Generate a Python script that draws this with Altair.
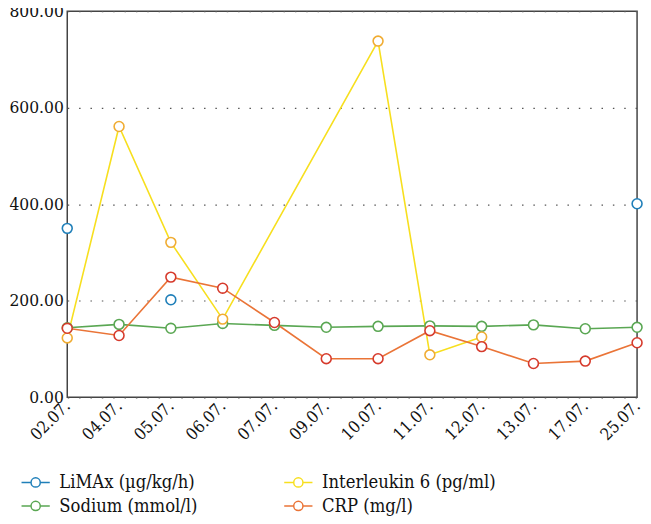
import altair as alt
import pandas as pd

dates = ["02.07.", "04.07.", "05.07.", "06.07.", "07.07.", "09.07.",
         "10.07.", "11.07.", "12.07.", "13.07.", "17.07.", "25.07."]

series_names = ["LiMAx (µg/kg/h)", "Sodium (mmol/l)", "Interleukin 6 (pg/ml)", "CRP (mg/l)"]

limax = [350, None, 202, None, None, None, None, None, None, None, None, 401]
sodium = [144, 151, 143, 153, 149, 145, 147, 148, 147, 150, 142, 145]
interleukin = [123, 561, 321, 162, None, None, 738, 88, 125, None, None, None]
crp = [143, 128, 249, 226, 155, 80, 80, 138, 105, 70, 75, 113]

line_colors = ["#1f7fb9", "#5aa753", "#f7df1e", "#ea7437"]
point_colors = ["#1f7fb9", "#5aa753", "#f0ac32", "#d63a2c"]

FONT = "'DejaVu Serif Condensed', 'DejaVu Serif', serif"

rows = []
for name, vals, pc in zip(series_names, [limax, sodium, interleukin, crp], point_colors):
    for d, v in zip(dates, vals):
        if v is not None:
            rows.append({"date": d, "value": v, "series": name, "pc": pc})
df = pd.DataFrame(rows)

x = alt.X("date:N", sort=dates, scale=alt.Scale(type="point", padding=0),
          axis=alt.Axis(title=None, labelAngle=-45, labelAlign="right", labelBaseline="middle",
                        labelPadding=6, ticks=False, domain=False, labelFontSize=17,
                        labelFont=FONT, labelColor="#111111"))
y = alt.Y("value:Q", scale=alt.Scale(domain=[0, 800], nice=False),
          axis=alt.Axis(title=None, values=[0, 200, 400, 600, 800], format=".2f",
                        ticks=False, domain=False, labelPadding=4, labelFontSize=17.5,
                        labelFont=FONT, labelColor="#111111",
                        grid=True, gridDash=[1.5, 10], gridColor="#555555", gridWidth=1.2))

color = alt.Color("series:N", scale=alt.Scale(domain=series_names, range=line_colors),
                  legend=alt.Legend(title=None, orient="none", legendX=-46, legendY=463,
                                    columns=2, columnPadding=84, rowPadding=0,
                                    symbolType="M-1.1,0H-0.36M0.36,0H1.1M0.36,0A0.36,0.36 0 1,1 -0.36,0A0.36,0.36 0 1,1 0.36,0",
                                    symbolSize=676, symbolStrokeWidth=1.5, symbolFillColor="white",
                                    labelFontSize=18.5, labelOffset=10, labelLimit=300,
                                    labelFont=FONT, labelColor="#111111"))

lines = alt.Chart(df).transform_filter(
    alt.datum.series != series_names[0]
).mark_line(strokeWidth=1.6).encode(x=x, y=y, color=color)

points = alt.Chart(df).mark_point(shape="circle", size=100, filled=False, fill="white",
                                  fillOpacity=1, strokeWidth=1.6, opacity=1).encode(
    x=x, y=y, stroke=alt.Stroke("pc:N", scale=None), detail="series:N")

chart = alt.layer(lines, points).properties(
    width=577, height=391,
    autosize=alt.AutoSizeParams(type="none"),
    padding={"left": 60, "top": 0, "right": 6, "bottom": 117},
).configure(font=FONT).configure_view(stroke="#444444", strokeWidth=1.5)

chart.save("out.html", embed_options={"renderer": "svg", "actions": False})
